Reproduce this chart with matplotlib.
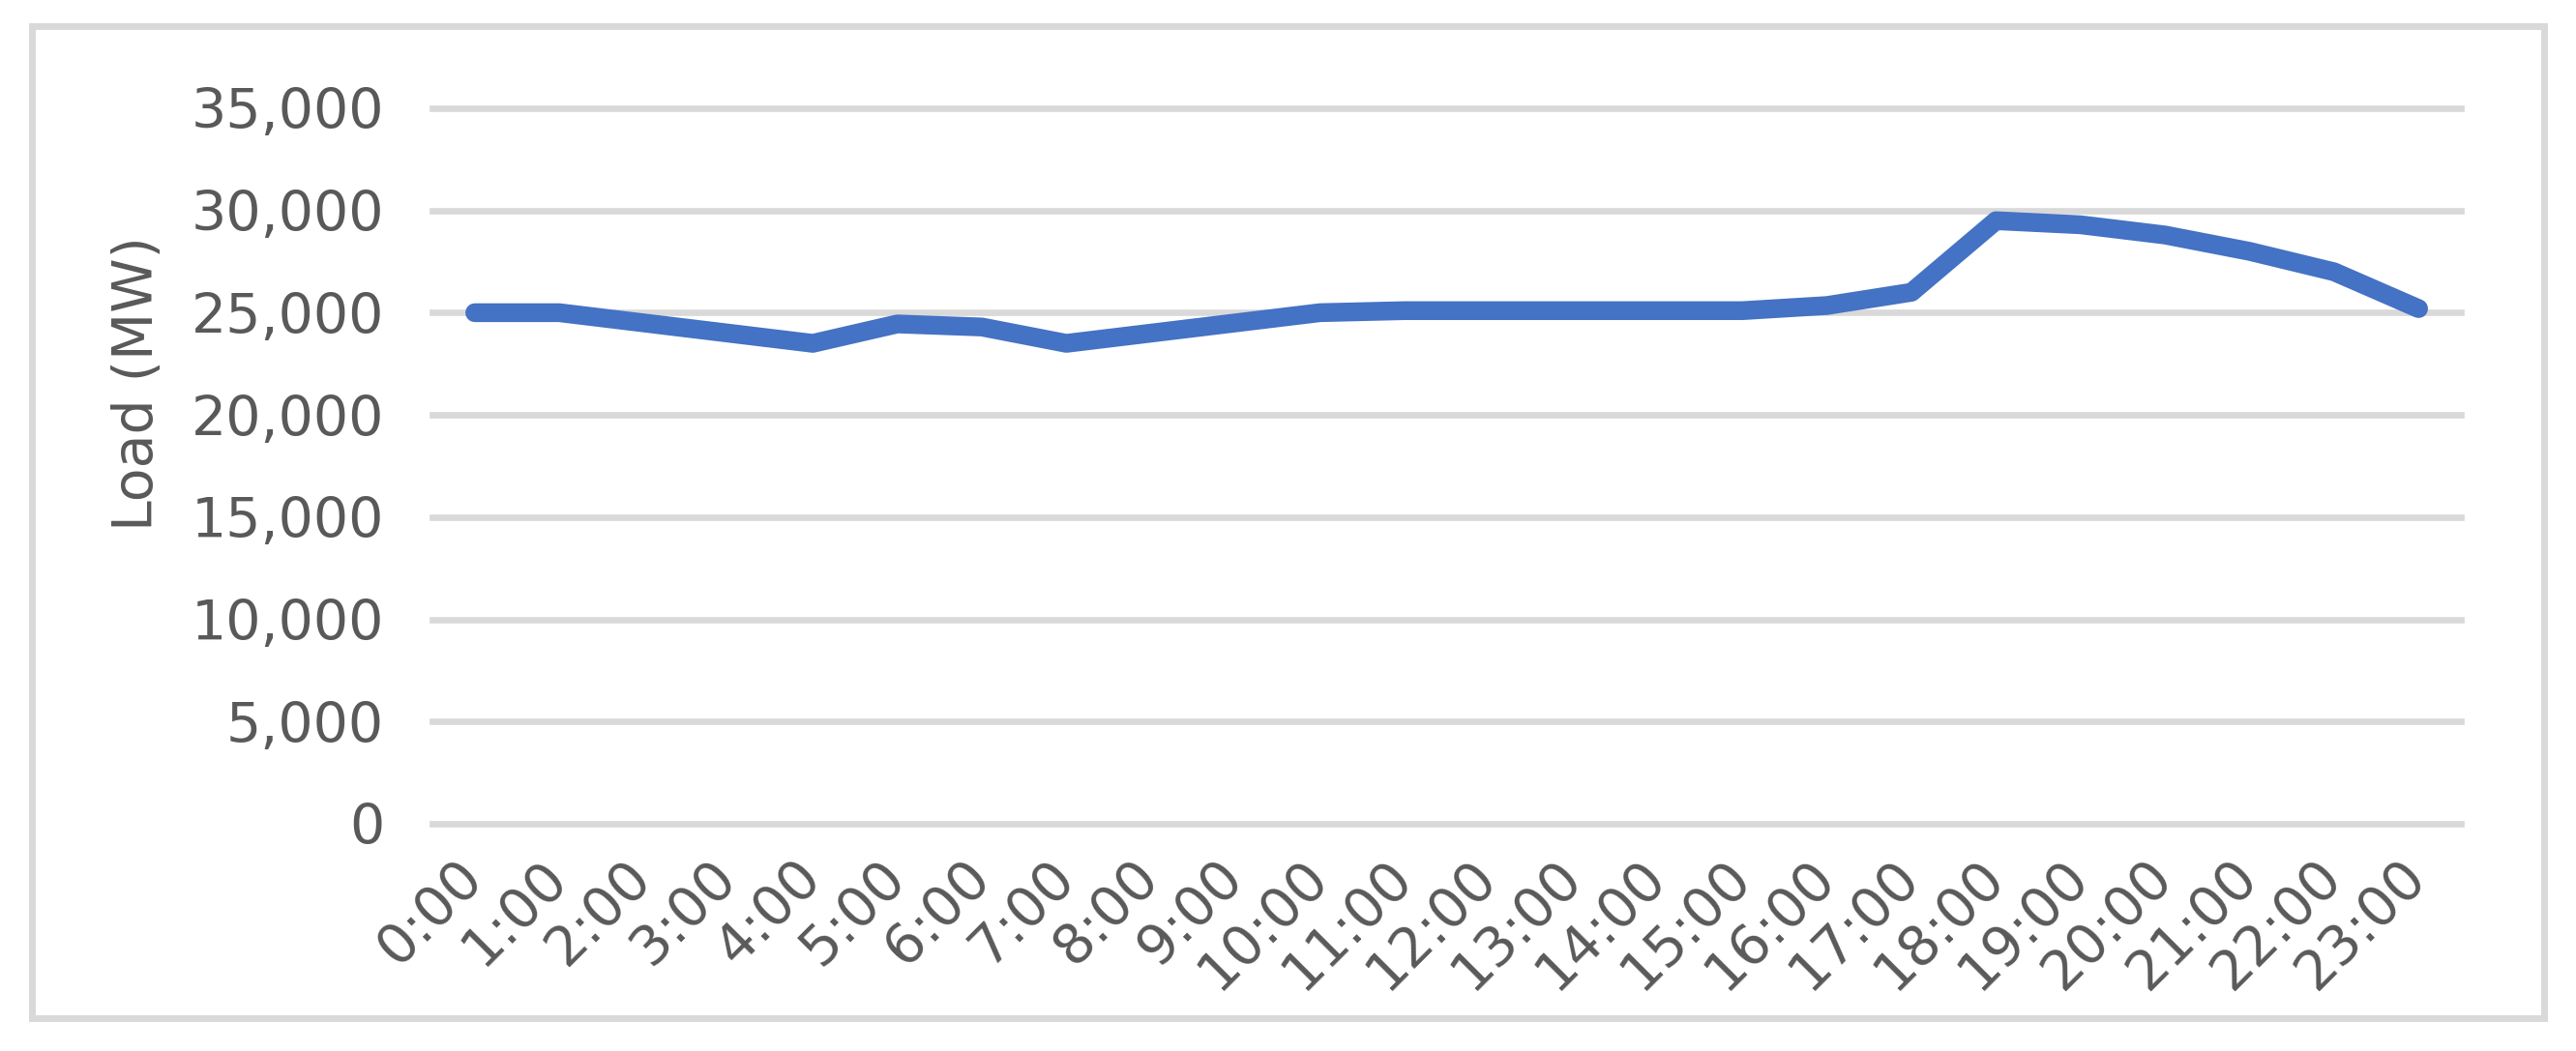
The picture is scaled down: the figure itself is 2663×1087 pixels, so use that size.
import matplotlib
matplotlib.use("Agg")
import matplotlib.pyplot as plt
from matplotlib.patches import Rectangle
from matplotlib.ticker import FuncFormatter

# Datos: carga horaria (MW)
hours = [f"{h}:00" for h in range(24)]
load_mw = [25000, 25000, 24500, 24000, 23500, 24450, 24300, 23500,
           24000, 24500, 25000, 25100, 25100, 25100, 25100, 25100,
           25350, 26000, 29500, 29300, 28800, 28000, 27000, 25200]
y_ticks = [0, 5000, 10000, 15000, 20000, 25000, 30000, 35000]

text_color = "#595959"
grid_color = "#d9d9d9"
line_color = "#4472c4"

plt.rcParams['font.family'] = ['DejaVu Sans']

fig = plt.figure(figsize=(26.63, 10.87), dpi=100)
ax = fig.add_axes([0.1679, 0.2162, 0.7874, 0.6808])

# Marco exterior del gráfico
fig.patches.append(Rectangle((32.5 / 2663, 1 - 1053 / 1087), (2630 - 32.5) / 2663,
                             (1053 - 26.5) / 1087, transform=fig.transFigure,
                             fill=False, edgecolor=grid_color, linewidth=5))

x = list(range(len(hours)))
ax.plot(x, load_mw, color=line_color, linewidth=14,
        solid_capstyle='round', solid_joinstyle='round', zorder=3)

ax.set_xlim(-0.5, len(hours) - 0.5)
ax.set_ylim(0, 35000)
ax.set_yticks(y_ticks)
ax.yaxis.set_major_formatter(FuncFormatter(lambda v, p: f"{int(v):,}"))
ax.grid(axis='y', color=grid_color, linewidth=4.8)
ax.set_axisbelow(True)
for gl in ax.get_ygridlines():
    gl.set_clip_on(False)

for s in ax.spines.values():
    s.set_visible(False)

ax.set_xticks(x)
ax.set_xticklabels(hours, rotation=45, ha='right', va='center',
                   rotation_mode='anchor')
ax.tick_params(axis='both', length=0, labelsize=41, colors=text_color)
ax.tick_params(axis='y', pad=36)
ax.tick_params(axis='x', pad=34)

ax.set_ylabel("Load (MW)", fontsize=41, color=text_color)
ax.yaxis.set_label_coords(-0.132, 0.615)

fig.savefig("out.png", dpi=100)
